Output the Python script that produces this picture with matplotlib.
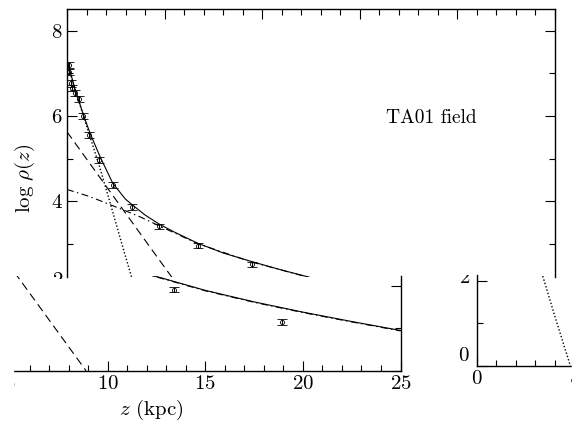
import matplotlib

matplotlib.use("Agg")

import matplotlib.pyplot as plt
from matplotlib.patches import Rectangle
from matplotlib.ticker import MultipleLocator
from matplotlib.transforms import Bbox, TransformedBbox, offset_copy

plt.rcParams.update({
    "font.family": "cmr10",
    "mathtext.fontset": "cm",
    "axes.formatter.use_mathtext": True,
    "lines.scale_dashes": False,
})

W, H = 581, 423

# measured vertical density profile, TA01 field
Z_DATA = [0.08, 0.12, 0.19, 0.28, 0.41, 0.63, 0.83, 1.13, 1.64, 2.35, 3.33,
          4.71, 6.69, 9.46, 13.41, 18.95]
LOGRHO_DATA = [7.19, 7.04, 6.77, 6.66, 6.53, 6.40, 6.01, 5.55, 4.98, 4.38, 3.87,
               3.42, 2.96, 2.52, 1.91, 1.16]
LOGRHO_ERR = [0.08, 0.08, 0.08, 0.07, 0.07, 0.07, 0.07, 0.07, 0.07, 0.07, 0.07,
              0.06, 0.06, 0.06, 0.06, 0.07]

# model curves
Z_TOTAL = [0.0, 0.2, 0.4, 0.66, 0.9, 1.18, 1.69, 2.35, 3.0, 3.34, 4.0, 4.71,
           5.5, 6.69, 8.0, 9.45, 11.0, 12.77, 15.0, 17.5, 20.0, 22.5, 25.0]
LOGRHO_TOTAL = [7.32, 6.98, 6.65, 6.28, 5.95, 5.60, 5.05, 4.42, 4.05, 3.92, 3.68,
                3.47, 3.28, 3.02, 2.79, 2.59, 2.39, 2.18, 1.89, 1.62, 1.38, 1.16, 0.95]
Z_THIN = [0.0, 0.5, 1.14, 1.65, 2.2, 2.8, 3.31, 4.0, 4.8]
LOGRHO_THIN = [7.25, 6.50, 5.57, 4.84, 3.98, 3.02, 2.22, 1.17, 0.0]
Z_THICK = [0.0, 4.5, 8.9]
LOGRHO_THICK = [5.63, 2.77, 0.0]
Z_HALO = [0.0, 1.18, 2.88, 3.73, 5.27, 6.69, 9.45, 12.77, 15.0, 17.5, 20.0, 22.5, 25.0]
LOGRHO_HALO = [4.28, 4.11, 3.80, 3.64, 3.31, 3.01, 2.58, 2.17, 1.88, 1.61, 1.37, 1.15, 0.94]

FIELD_LABEL = "TA01 field"
PX_PER_UNIT = 42.66
PANEL_W = 488


def px_axes(fig, left, top, right, bottom):
    return fig.add_axes([left / W, 1 - bottom / H, (right - left) / W, (bottom - top) / H],
                        facecolor="none")


def region_above(fig, y_px):
    # part of the figure above a pixel row (counted from the top)
    return TransformedBbox(Bbox.from_extents(0, 1 - y_px / H, 1, 1), fig.transFigure)


def region_below(fig, y_px):
    return TransformedBbox(Bbox.from_extents(0, 0, 1, 1 - y_px / H), fig.transFigure)


def draw_panel(ax, ylo, yhi):
    ax.plot(Z_THIN, LOGRHO_THIN, color="black", lw=1.0, linestyle=(0, (1.0, 1.5)))
    ax.plot(Z_THICK, LOGRHO_THICK, color="black", lw=0.8, linestyle=(0, (6, 3.5)))
    ax.plot(Z_HALO, LOGRHO_HALO, color="black", lw=0.8, linestyle=(0, (5, 2.5, 1, 2.5)))
    ax.plot(Z_TOTAL, LOGRHO_TOTAL, color="black", lw=0.8)
    ax.errorbar(Z_DATA, LOGRHO_DATA, yerr=LOGRHO_ERR, fmt="o", ms=3, mfc="none",
                mec="black", mew=0.6, ecolor="black", elinewidth=0.7, capsize=3.6,
                capthick=0.8)
    ax.set_xlim(0, 25)
    ax.set_ylim(ylo, yhi)
    ax.xaxis.set_major_locator(MultipleLocator(5))
    ax.xaxis.set_minor_locator(MultipleLocator(1))
    ax.yaxis.set_major_locator(MultipleLocator(2))
    ax.yaxis.set_minor_locator(MultipleLocator(1))
    ax.tick_params(which="both", direction="in", width=0.8, labelsize=15, pad=3)
    ax.tick_params(which="major", length=7.2)
    ax.tick_params(which="minor", length=4)
    for sp in ax.spines.values():
        sp.set_linewidth(1.0)


fig = plt.figure(figsize=(W / 100, H / 100), dpi=100)

# upper part of the panel
ax_a = px_axes(fig, 67, 9, 67 + PANEL_W, 277)
draw_panel(ax_a, (372 - 277) / PX_PER_UNIT, (372 - 9) / PX_PER_UNIT)
ax_a.spines["bottom"].set_visible(False)
ax_a.tick_params(which="both", bottom=False, labelbottom=False, top=True, right=True)
ax_a.set_ylabel(r"$\log\,\rho(z)$", fontsize=15)
ax_a.yaxis.label.set_va("center")
ax_a.yaxis.set_label_coords((25 - 67) / PANEL_W, (277 - 178) / 268)
ax_a.text(16.34, 5.84, FIELD_LABEL, fontsize=14, ha="left", va="baseline")
t = fig.text(0, 2, "2", fontsize=15, ha="right", va="center",
             transform=offset_copy(ax_a.get_yaxis_transform(), fig, x=-4, y=6,
                                   units="dots"))
t.set_clip_box(region_above(fig, 279))
t.set_clip_on(True)

# lower strip, right part of the panel shifted left
ax_b = px_axes(fig, 400.5 - PANEL_W, 276, 400.5, 371)
draw_panel(ax_b, 0, (371 - 276) / PX_PER_UNIT)
ax_b.spines["top"].set_visible(False)
ax_b.spines["left"].set_visible(False)
ax_b.tick_params(which="both", top=False, left=False, labelleft=False, right=True)
ax_b.set_xlabel(r"$z$ (kpc)", fontsize=15)
ax_b.xaxis.set_label_coords((151 - 400.5 + PANEL_W) / PANEL_W, (371 - 398) / 95)

# lower strip, left part of the panel wrapped to the right
ax_c = px_axes(fig, 476.7, 275, 476.7 + PANEL_W, 366)
draw_panel(ax_c, 0, (366 - 275) / PX_PER_UNIT)
ax_c.spines["top"].set_visible(False)
ax_c.spines["right"].set_visible(False)
ax_c.tick_params(which="both", top=False, right=False, labelleft=False)
ytrans = ax_c.get_yaxis_transform()
fig.text(0, 0, "0", fontsize=15, ha="right", va="center",
         transform=offset_copy(ytrans, fig, x=-8, y=10, units="dots"))
t = fig.text(0, 2, "2", fontsize=15, ha="right", va="center",
             transform=offset_copy(ytrans, fig, x=-6, y=3, units="dots"))
t.set_clip_box(region_below(fig, 275))
t.set_clip_on(True)

# blank gap where the strip wraps round
for x0, x1 in [(0, 12.5), (572, W)]:
    fig.add_artist(Rectangle((x0 / W, 0), (x1 - x0) / W, 1 - 276 / H,
                             transform=fig.transFigure, color="white", zorder=10))

fig.savefig("out.png", dpi=100)
